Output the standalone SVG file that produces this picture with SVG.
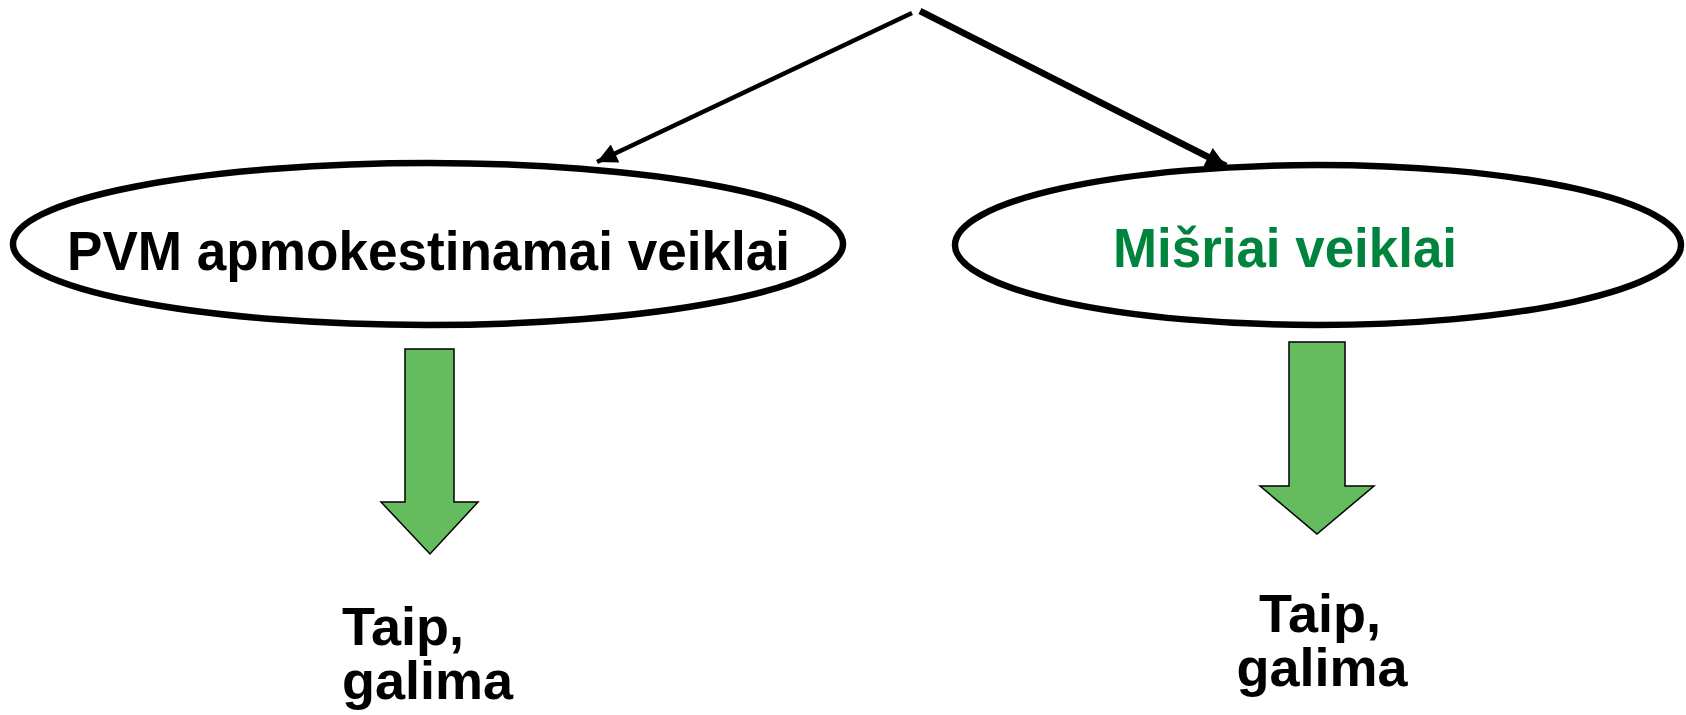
<svg xmlns="http://www.w3.org/2000/svg" width="1686" height="715" viewBox="0 0 1686 715">
<style>
.oval{fill:#fff;stroke:#000;stroke-width:6.5}
.lbl{font-family:"Liberation Sans",Arial,sans-serif;font-weight:bold;font-size:56px}
.sub{font-family:"Liberation Sans",Arial,sans-serif;font-weight:bold;font-size:54px}
.garrow{fill:#64BC5F;stroke:#000;stroke-width:1.5;stroke-linejoin:miter}
.conn{stroke:#000;fill:none}
</style>
<defs>
<marker id="ah" markerUnits="userSpaceOnUse" viewBox="0 0 10 10" refX="10" refY="5" markerWidth="22" markerHeight="20" orient="auto">
<path d="M0,0 L10,5 L0,10 Z" fill="#000"/>
</marker>
</defs>
<g id="connectors">
<line class="conn" x1="912" y1="13" x2="597" y2="162" stroke-width="4.5" marker-end="url(#ah)"/>
<line class="conn" x1="920" y1="11" x2="1226" y2="166" stroke-width="6.5" marker-end="url(#ah)"/>
</g>
<g id="node-pvm">
<ellipse class="oval" cx="428" cy="244" rx="415" ry="81"/>
<text class="lbl" x="67" y="270" textLength="723" lengthAdjust="spacingAndGlyphs">PVM apmokestinamai veiklai</text>
</g>
<g id="node-misriai">
<ellipse class="oval" cx="1318" cy="245" rx="363" ry="80"/>
<text class="lbl" x="1113" y="267" textLength="344" lengthAdjust="spacingAndGlyphs" fill="#00843D">Mišriai veiklai</text>
</g>
<g id="arrow-left">
<path class="garrow" d="M405,349 H454 V502 H478 L430,554 L381,502 H405 Z"/>
</g>
<g id="arrow-right">
<path class="garrow" d="M1289,342 H1345 V486 H1374 L1317,534 L1260,486 H1289 Z"/>
</g>
<g id="text-left">
<text class="sub" x="342" y="645">Taip,</text>
<text class="sub" x="342" y="699">galima</text>
</g>
<g id="text-right">
<text class="sub" x="1320" y="632" text-anchor="middle">Taip,</text>
<text class="sub" x="1322" y="686" text-anchor="middle">galima</text>
</g>
</svg>
